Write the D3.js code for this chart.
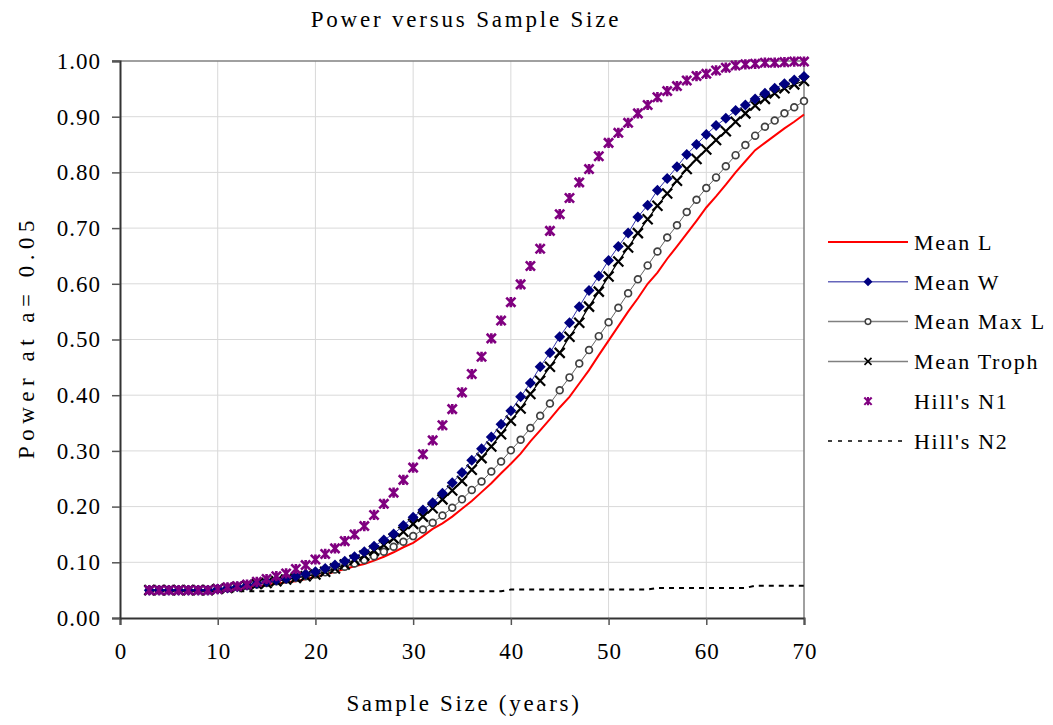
<!DOCTYPE html>
<html>
<head>
<meta charset="utf-8">
<script src="https://cdn.jsdelivr.net/npm/d3@7"></script>
<style>
  body { margin: 0; background: #fff; }
  text { font-family: "Liberation Serif", "Times New Roman", serif; fill: #000; }
</style>
</head>
<body>
<div id="chart"></div>
<script>
const width = 1053;
const height = 725;

// sample size (years)
const sampleSize = [3, 4, 5, 6, 7, 8, 9, 10, 11, 12, 13, 14, 15, 16, 17, 18, 19, 20,
    21, 22, 23, 24, 25, 26, 27, 28, 29, 30, 31, 32, 33, 34, 35, 36, 37, 38, 39, 40,
    41, 42, 43, 44, 45, 46, 47, 48, 49, 50, 51, 52, 53, 54, 55, 56, 57, 58, 59, 60,
    61, 62, 63, 64, 65, 66, 67, 68, 69, 70];

const meanL = [0.05, 0.05, 0.05, 0.05, 0.05, 0.05, 0.05, 0.051, 0.052, 0.054, 0.055, 0.057, 0.059, 0.062, 0.064, 0.066, 0.07, 0.074,
    0.078, 0.083, 0.088, 0.093, 0.097, 0.103, 0.11, 0.118, 0.127, 0.135, 0.147, 0.16, 0.17, 0.182, 0.196, 0.21, 0.226, 0.242, 0.26, 0.277,
    0.295, 0.317, 0.337, 0.357, 0.378, 0.397, 0.421, 0.445, 0.472, 0.498, 0.524, 0.55, 0.574, 0.6, 0.62, 0.645, 0.667, 0.69, 0.713, 0.737,
    0.757, 0.778, 0.8, 0.82, 0.84, 0.853, 0.866, 0.879, 0.891, 0.904];

const meanW = [0.05, 0.05, 0.05, 0.05, 0.05, 0.05, 0.05, 0.052, 0.054, 0.056, 0.059, 0.062, 0.065, 0.068, 0.071, 0.075, 0.079, 0.083,
    0.089, 0.095, 0.102, 0.11, 0.119, 0.129, 0.14, 0.151, 0.166, 0.181, 0.194, 0.207, 0.224, 0.243, 0.261, 0.283, 0.304, 0.325, 0.348, 0.372,
    0.397, 0.422, 0.451, 0.476, 0.505, 0.53, 0.559, 0.588, 0.614, 0.642, 0.667, 0.691, 0.72, 0.741, 0.768, 0.789, 0.81, 0.832, 0.85, 0.868,
    0.884, 0.897, 0.911, 0.921, 0.932, 0.942, 0.951, 0.959, 0.966, 0.972];

const meanMaxL = [0.05, 0.05, 0.05, 0.05, 0.05, 0.05, 0.05, 0.052, 0.054, 0.056, 0.058, 0.06, 0.063, 0.066, 0.069, 0.072, 0.075, 0.078,
    0.082, 0.087, 0.092, 0.098, 0.104, 0.111, 0.119, 0.128, 0.137, 0.147, 0.159, 0.171, 0.184, 0.198, 0.213, 0.23, 0.245, 0.263, 0.281, 0.301,
    0.32, 0.341, 0.363, 0.385, 0.409, 0.432, 0.457, 0.481, 0.506, 0.531, 0.557, 0.583, 0.608, 0.633, 0.658, 0.683, 0.705, 0.729, 0.751, 0.772,
    0.791, 0.811, 0.831, 0.849, 0.866, 0.882, 0.893, 0.906, 0.917, 0.928];

const meanTroph = [0.05, 0.05, 0.05, 0.05, 0.05, 0.05, 0.05, 0.052, 0.054, 0.056, 0.058, 0.061, 0.063, 0.066, 0.069, 0.072, 0.075, 0.078,
    0.083, 0.089, 0.096, 0.104, 0.112, 0.121, 0.131, 0.143, 0.155, 0.169, 0.182, 0.197, 0.213, 0.229, 0.246, 0.266, 0.287, 0.308, 0.33, 0.354,
    0.376, 0.402, 0.426, 0.451, 0.476, 0.505, 0.53, 0.559, 0.586, 0.613, 0.64, 0.665, 0.691, 0.716, 0.74, 0.762, 0.785, 0.806, 0.824, 0.841,
    0.858, 0.874, 0.891, 0.906, 0.92, 0.932, 0.942, 0.951, 0.958, 0.964];

const hillsN1 = [0.05, 0.05, 0.05, 0.05, 0.05, 0.05, 0.05, 0.052, 0.055, 0.057, 0.06, 0.065, 0.07, 0.075, 0.08, 0.088, 0.095, 0.105,
    0.115, 0.125, 0.138, 0.15, 0.165, 0.185, 0.205, 0.225, 0.248, 0.27, 0.294, 0.319, 0.346, 0.375, 0.405, 0.438, 0.469, 0.502, 0.534, 0.567,
    0.599, 0.632, 0.663, 0.695, 0.725, 0.754, 0.782, 0.806, 0.829, 0.853, 0.871, 0.889, 0.906, 0.921, 0.935, 0.946, 0.955, 0.965, 0.973, 0.977,
    0.983, 0.988, 0.992, 0.994, 0.995, 0.997, 0.997, 0.998, 0.999, 0.999];

const hillsN2 = [0.048, 0.048, 0.048, 0.048, 0.048, 0.048, 0.048, 0.048, 0.048, 0.048, 0.048, 0.048, 0.048, 0.048, 0.048, 0.048, 0.048, 0.048,
    0.048, 0.048, 0.048, 0.048, 0.048, 0.048, 0.048, 0.048, 0.048, 0.048, 0.048, 0.048, 0.048, 0.048, 0.048, 0.048, 0.048, 0.048, 0.048, 0.051,
    0.051, 0.051, 0.051, 0.051, 0.051, 0.051, 0.051, 0.051, 0.051, 0.051, 0.051, 0.051, 0.051, 0.051, 0.054, 0.054, 0.054, 0.054, 0.054, 0.054,
    0.054, 0.054, 0.054, 0.054, 0.058, 0.058, 0.058, 0.058, 0.058, 0.058];

const xTicks = [0, 10, 20, 30, 40, 50, 60, 70];
const yTicks = [0, 0.1, 0.2, 0.3, 0.4, 0.5, 0.6, 0.7, 0.8, 0.9, 1.0];

const svg = d3.select("#chart")
    .append("svg")
    .attr("width", width)
    .attr("height", height);

const x = d3.scaleLinear().domain([0, 70]).range([120, 804]);
const y = d3.scaleLinear().domain([0, 1]).range([618, 61]);

// gridlines
svg.append("g")
    .selectAll("line.vg")
    .data(xTicks.slice(1, -1))
    .enter().append("line")
    .attr("x1", d => x(d)).attr("x2", d => x(d))
    .attr("y1", y(0)).attr("y2", y(1))
    .attr("stroke", "#d9d9d9").attr("stroke-width", 1);

svg.append("g")
    .selectAll("line.hg")
    .data(yTicks.slice(1, -1))
    .enter().append("line")
    .attr("x1", x(0)).attr("x2", x(70))
    .attr("y1", d => y(d)).attr("y2", d => y(d))
    .attr("stroke", "#d9d9d9").attr("stroke-width", 1);

// frame top / right
svg.append("line")
    .attr("x1", x(0) - 8).attr("x2", x(70))
    .attr("y1", y(1)).attr("y2", y(1))
    .attr("stroke", "#808080").attr("stroke-width", 1.5);
svg.append("line")
    .attr("x1", x(70)).attr("x2", x(70))
    .attr("y1", y(1)).attr("y2", y(0))
    .attr("stroke", "#808080").attr("stroke-width", 1.5);

// axes
const xAxis = svg.append("g")
    .attr("transform", `translate(0, ${y(0)})`)
    .call(d3.axisBottom(x).tickValues(xTicks).tickSize(7).tickPadding(22).tickFormat(d3.format("d")));
const yAxis = svg.append("g")
    .attr("transform", `translate(${x(0)}, 0)`)
    .call(d3.axisLeft(y).tickValues(yTicks).tickSize(8).tickPadding(11).tickFormat(d3.format(".2f")));

[xAxis, yAxis].forEach(g => {
    g.select(".domain").attr("stroke", "#333").attr("stroke-width", 2);
    g.selectAll(".tick line").attr("stroke", "#555").attr("stroke-width", 1.5);
    g.selectAll(".tick text")
        .attr("font-family", "Liberation Serif, serif")
        .attr("font-size", 23)
        .attr("letter-spacing", 1)
        .attr("fill", "#000");
});
xAxis.selectAll(".tick text").attr("dy", "0.5em").attr("dx", 0.5);

// series
const rows = sampleSize.map((s, i) => ({
    s,
    meanL: meanL[i], meanW: meanW[i], meanMaxL: meanMaxL[i],
    meanTroph: meanTroph[i], hillsN1: hillsN1[i], hillsN2: hillsN2[i]
}));

const line = key => d3.line().x(d => x(d.s)).y(d => y(d[key]));

svg.append("path").datum(rows)
    .attr("fill", "none").attr("stroke", "#000").attr("stroke-width", 2)
    .attr("stroke-dasharray", "5,5")
    .attr("d", line("hillsN2"));

svg.append("path").datum(rows)
    .attr("fill", "none").attr("stroke", "#ff0000").attr("stroke-width", 2)
    .attr("d", line("meanL"));

svg.append("path").datum(rows)
    .attr("fill", "none").attr("stroke", "#666").attr("stroke-width", 1)
    .attr("d", line("meanMaxL"));
svg.append("g").selectAll("circle")
    .data(rows).enter().append("circle")
    .attr("cx", d => x(d.s)).attr("cy", d => y(d.meanMaxL))
    .attr("r", 3.4)
    .attr("fill", "#fff").attr("stroke", "#404040").attr("stroke-width", 1.7);

svg.append("path").datum(rows)
    .attr("fill", "none").attr("stroke", "#000").attr("stroke-width", 1.2)
    .attr("d", line("meanTroph"));
const xMark = 5;
svg.append("g").selectAll("path")
    .data(rows).enter().append("path")
    .attr("transform", d => `translate(${x(d.s)},${y(d.meanTroph)})`)
    .attr("d", `M${-xMark},${-xMark}L${xMark},${xMark}M${-xMark},${xMark}L${xMark},${-xMark}`)
    .attr("stroke", "#000").attr("stroke-width", 2.2).attr("fill", "none");

svg.append("path").datum(rows)
    .attr("fill", "none").attr("stroke", "#3333aa").attr("stroke-width", 1)
    .attr("d", line("meanW"));
const dm = 5.5;
svg.append("g").selectAll("path")
    .data(rows).enter().append("path")
    .attr("transform", d => `translate(${x(d.s)},${y(d.meanW)})`)
    .attr("d", `M0,${-dm}L${dm},0L0,${dm}L${-dm},0Z`)
    .attr("fill", "#000080");

const am = 4.6;
const asterisk = `M${-am},${-am}L${am},${am}M${-am},${am}L${am},${-am}M0,${-am - 0.5}L0,${am + 0.5}`;
svg.append("g").selectAll("path")
    .data(rows).enter().append("path")
    .attr("transform", d => `translate(${x(d.s)},${y(d.hillsN1)})`)
    .attr("d", asterisk)
    .attr("stroke", "#800080").attr("stroke-width", 2.6).attr("fill", "none");

// titles
svg.append("text")
    .attr("x", 466).attr("y", 27)
    .attr("text-anchor", "middle")
    .attr("font-size", 23)
    .attr("letter-spacing", 2.8)
    .text("Power versus Sample Size");

svg.append("text")
    .attr("x", 464).attr("y", 711)
    .attr("text-anchor", "middle")
    .attr("font-size", 23)
    .attr("letter-spacing", 2.7)
    .text("Sample Size (years)");

svg.append("text")
    .attr("transform", "translate(34, 337) rotate(-90)")
    .attr("text-anchor", "middle")
    .attr("font-size", 23)
    .attr("letter-spacing", 5.5)
    .text("Power at a= 0.05");

// legend
const legendItems = ["Mean L", "Mean W", "Mean Max L", "Mean Troph", "Hill's N1", "Hill's N2"];
const legend = svg.append("g").attr("transform", "translate(828, 242)");
legendItems.forEach((name, i) => {
    const g = legend.append("g").attr("transform", `translate(0, ${i * 39.8})`);
    if (name === "Mean L") {
        g.append("line").attr("x1", 0).attr("x2", 80).attr("stroke", "#ff0000").attr("stroke-width", 2);
    } else if (name === "Mean W") {
        g.append("line").attr("x1", 0).attr("x2", 80).attr("stroke", "#6666bb").attr("stroke-width", 1.5);
        g.append("path").attr("transform", "translate(40,0)")
            .attr("d", "M0,-4.5L4.5,0L0,4.5L-4.5,0Z").attr("fill", "#000080");
    } else if (name === "Mean Max L") {
        g.append("line").attr("x1", 0).attr("x2", 80).attr("stroke", "#808080").attr("stroke-width", 1.5);
        g.append("circle").attr("cx", 40).attr("r", 2.8)
            .attr("fill", "#fff").attr("stroke", "#404040").attr("stroke-width", 1.5);
    } else if (name === "Mean Troph") {
        g.append("line").attr("x1", 0).attr("x2", 80).attr("stroke", "#808080").attr("stroke-width", 1.5);
        g.append("path").attr("transform", "translate(40,0)")
            .attr("d", "M-3.5,-3.5L3.5,3.5M-3.5,3.5L3.5,-3.5")
            .attr("stroke", "#000").attr("stroke-width", 1.6);
    } else if (name === "Hill's N1") {
        g.append("path").attr("transform", "translate(40,0) scale(0.8)")
            .attr("d", asterisk).attr("stroke", "#800080").attr("stroke-width", 2.6).attr("fill", "none");
    } else {
        g.append("line").attr("x1", 0).attr("x2", 80).attr("stroke", "#000").attr("stroke-width", 1.5)
            .attr("stroke-dasharray", "4,6");
    }
    g.append("text")
        .attr("x", 86).attr("y", 0).attr("dy", "0.35em")
        .attr("font-size", 22)
        .attr("letter-spacing", 1.7)
        .text(name);
});
</script>
</body>
</html>
